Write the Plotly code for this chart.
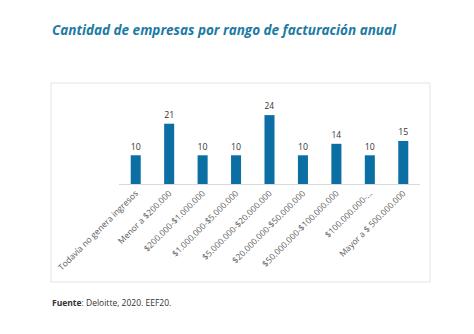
import plotly.graph_objects as go

# Annual revenue ranges and number of companies in each
categorias = [
    "Todavía no genera ingresos",
    "Menor a $200.000",
    "$200.000-$1.000.000",
    "$1.000.000-$5.000.000",
    "$5.000.000-$20.000.000",
    "$20.000.000-$50.000.000",
    "$50.000.000-$100.000.000",
    "$100.000.000-...",
    "Mayor a $ 500.000.000",
]
empresas = [10, 21, 10, 10, 24, 10, 14, 10, 15]

W, H = 474, 334
ml, mr, mt, mb = 119, 54, 95, 150
pw, ph = W - ml - mr, H - mt - mb


def px_x(x):
    return (x - ml) / pw


def px_y(y):
    return (H - mb - y) / ph


fig = go.Figure(
    go.Bar(
        x=categorias,
        y=empresas,
        width=0.3,
        marker=dict(color="#0B6FA4", line=dict(width=0)),
        text=empresas,
        textposition="outside",
        textfont=dict(family="Open Sans", size=9.5, color="#333333"),
        cliponaxis=False,
    )
)

fig.update_layout(
    width=W,
    height=H,
    margin=dict(l=ml, r=mr, t=mt, b=mb),
    paper_bgcolor="white",
    plot_bgcolor="white",
    showlegend=False,
    bargap=0.7,
    xaxis=dict(
        tickangle=-45,
        tickfont=dict(family="Open Sans", size=8.5, color="#595959"),
        showline=True,
        linecolor="#D9D9D9",
        linewidth=1,
        ticks="",
        showgrid=False,
    ),
    yaxis=dict(range=[0, 31], visible=False, showgrid=False),
    shapes=[
        dict(
            type="rect",
            xref="paper",
            yref="paper",
            x0=px_x(51),
            x1=px_x(430),
            y0=px_y(282),
            y1=px_y(83),
            line=dict(color="#E3E3E3", width=1),
            layer="below",
        )
    ],
    annotations=[
        dict(
            text="<b><i>Cantidad de empresas por rango de facturación anual</i></b>",
            xref="paper",
            yref="paper",
            x=px_x(50),
            y=px_y(30),
            xanchor="left",
            yanchor="middle",
            showarrow=False,
            font=dict(family="Open Sans", size=13.5, color="#1C7AA3"),
        ),
        dict(
            text="<b>Fuente</b>: Deloitte, 2020. EEF20.",
            xref="paper",
            yref="paper",
            x=px_x(50),
            y=px_y(302),
            xanchor="left",
            yanchor="middle",
            showarrow=False,
            font=dict(family="Open Sans", size=8.5, color="#333333"),
        ),
    ],
)

fig.write_html("out.html")
